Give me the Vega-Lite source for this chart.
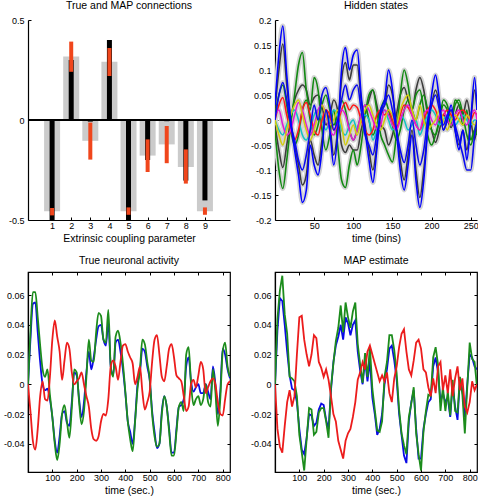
{
"$schema": "https://vega.github.io/schema/vega-lite/v6.json",
"background": "white",
"padding": {"left": 2, "top": 0, "right": 0, "bottom": 0},
"columns": 2,
"spacing": {"row": 52, "column": 45},
"bounds": "flush",
"resolve": {"scale": {"color": "independent"}},
"config": {
  "font": "Liberation Sans",
  "view": {"stroke": null},
  "axis": {"grid": false, "domainColor": "#000", "domainWidth": 1.2, "tickColor": "#000", "tickSize": -3, "tickWidth": 1, "labelColor": "#000", "titleColor": "#000", "labelFont": "Liberation Sans", "titleFont": "Liberation Sans", "labelFontSize": 9, "titleFontSize": 10.5, "titleFontWeight": "normal", "titlePadding": 3, "labelOverlap": false},
  "axisX": {"labelPadding": 4},
  "axisY": {"labelPadding": 7},
  "title": {"font": "Liberation Sans", "fontSize": 10.5, "fontWeight": "normal", "color": "#000", "offset": 5, "anchor": "middle"}
},
"datasets": {
  "bars": [
    {"k": 1, "truth": -0.456, "map": -0.5, "lo": -0.44, "hi": -0.477},
    {"k": 2, "truth": 0.318, "map": 0.30, "lo": 0.241, "hi": 0.392},
    {"k": 3, "truth": -0.104, "map": -0.008, "lo": -0.013, "hi": -0.198},
    {"k": 4, "truth": 0.291, "map": 0.40, "lo": 0.22, "hi": 0.36},
    {"k": 5, "truth": -0.456, "map": -0.5, "lo": -0.437, "hi": -0.474},
    {"k": 6, "truth": -0.178, "map": -0.2, "lo": -0.097, "hi": -0.26},
    {"k": 7, "truth": -0.122, "map": -0.006, "lo": -0.03, "hi": -0.216},
    {"k": 8, "truth": -0.235, "map": -0.303, "lo": -0.147, "hi": -0.318},
    {"k": 9, "truth": -0.456, "map": -0.402, "lo": -0.437, "hi": -0.474}
  ],
  "hidden": [
    {"t": 0, "b1": 0.03, "b2": 0.0, "d1": 0.02, "d2": -0.01, "g1": -0.02, "g2": 0.01, "c": 0.0, "r": 0.0, "m": 0.01, "yl": 0.0},
    {"t": 5, "b1": 0.13, "b2": 0.05, "d1": 0.1, "d2": -0.06, "g1": -0.1, "g2": 0.05, "c": -0.02, "r": 0.03, "m": 0.02, "yl": -0.03},
    {"t": 10, "b1": 0.188, "b2": 0.075, "d1": 0.152, "d2": -0.095, "g1": -0.137, "g2": 0.07, "c": -0.03, "r": 0.045, "m": -0.01, "yl": -0.05},
    {"t": 15, "b1": 0.09, "b2": 0.04, "d1": 0.07, "d2": -0.05, "g1": -0.08, "g2": 0.03, "c": -0.01, "r": 0.01, "m": -0.03, "yl": -0.02},
    {"t": 20, "b1": 0.0, "b2": -0.01, "d1": 0.0, "d2": 0.0, "g1": -0.01, "g2": -0.02, "c": 0.01, "r": -0.02, "m": -0.02, "yl": 0.01},
    {"t": 25, "b1": -0.06, "b2": -0.04, "d1": -0.05, "d2": 0.04, "g1": 0.05, "g2": -0.05, "c": 0.02, "r": -0.04, "m": 0.01, "yl": 0.03},
    {"t": 30, "b1": -0.11, "b2": -0.08, "d1": -0.09, "d2": 0.06, "g1": 0.11, "g2": -0.03, "c": 0.0, "r": -0.02, "m": 0.035, "yl": 0.04},
    {"t": 35, "b1": -0.165, "b2": -0.1, "d1": -0.13, "d2": 0.07, "g1": 0.135, "g2": 0.02, "c": -0.03, "r": 0.02, "m": 0.02, "yl": 0.01},
    {"t": 40, "b1": -0.14, "b2": -0.07, "d1": -0.11, "d2": 0.06, "g1": 0.06, "g2": 0.04, "c": -0.04, "r": 0.035, "m": -0.01, "yl": -0.02},
    {"t": 45, "b1": -0.05, "b2": -0.02, "d1": -0.04, "d2": 0.03, "g1": 0.02, "g2": 0.0, "c": -0.02, "r": 0.01, "m": -0.03, "yl": -0.04},
    {"t": 50, "b1": -0.09, "b2": 0.03, "d1": -0.07, "d2": 0.045, "g1": 0.085, "g2": -0.03, "c": 0.01, "r": -0.02, "m": -0.01, "yl": -0.02},
    {"t": 55, "b1": -0.11, "b2": 0.0, "d1": -0.09, "d2": 0.05, "g1": 0.06, "g2": -0.01, "c": 0.02, "r": -0.03, "m": 0.02, "yl": 0.01},
    {"t": 60, "b1": -0.06, "b2": 0.05, "d1": -0.04, "d2": 0.03, "g1": -0.02, "g2": 0.03, "c": 0.0, "r": 0.0, "m": 0.03, "yl": 0.03},
    {"t": 65, "b1": 0.02, "b2": 0.065, "d1": 0.02, "d2": -0.01, "g1": -0.06, "g2": 0.05, "c": -0.02, "r": 0.02, "m": 0.01, "yl": 0.01},
    {"t": 70, "b1": -0.02, "b2": 0.03, "d1": -0.01, "d2": 0.01, "g1": -0.03, "g2": 0.02, "c": 0.0, "r": 0.01, "m": -0.02, "yl": -0.01},
    {"t": 75, "b1": -0.09, "b2": -0.02, "d1": -0.07, "d2": 0.04, "g1": 0.02, "g2": -0.01, "c": 0.02, "r": -0.02, "m": -0.03, "yl": 0.0},
    {"t": 80, "b1": -0.03, "b2": 0.0, "d1": -0.02, "d2": 0.02, "g1": -0.05, "g2": 0.01, "c": 0.01, "r": -0.01, "m": 0.0, "yl": 0.02},
    {"t": 85, "b1": 0.1, "b2": 0.04, "d1": 0.08, "d2": -0.05, "g1": -0.12, "g2": 0.04, "c": -0.02, "r": 0.02, "m": 0.02, "yl": -0.01},
    {"t": 90, "b1": 0.145, "b2": 0.07, "d1": 0.115, "d2": -0.065, "g1": -0.135, "g2": 0.02, "c": -0.03, "r": 0.035, "m": 0.01, "yl": -0.05},
    {"t": 95, "b1": 0.1, "b2": 0.04, "d1": 0.08, "d2": -0.05, "g1": -0.09, "g2": -0.02, "c": -0.01, "r": 0.02, "m": -0.02, "yl": -0.03},
    {"t": 100, "b1": 0.13, "b2": 0.06, "d1": 0.11, "d2": -0.06, "g1": -0.06, "g2": -0.04, "c": 0.0, "r": 0.03, "m": -0.04, "yl": -0.01},
    {"t": 105, "b1": 0.14, "b2": 0.07, "d1": 0.11, "d2": -0.06, "g1": -0.09, "g2": -0.02, "c": -0.02, "r": 0.025, "m": -0.02, "yl": -0.03},
    {"t": 110, "b1": 0.05, "b2": 0.02, "d1": 0.04, "d2": -0.02, "g1": -0.05, "g2": 0.01, "c": 0.0, "r": 0.0, "m": 0.01, "yl": 0.0},
    {"t": 115, "b1": -0.02, "b2": -0.03, "d1": -0.01, "d2": 0.01, "g1": 0.01, "g2": 0.03, "c": 0.01, "r": -0.02, "m": 0.03, "yl": 0.02},
    {"t": 120, "b1": -0.08, "b2": -0.05, "d1": -0.06, "d2": 0.04, "g1": 0.05, "g2": 0.0, "c": 0.0, "r": -0.03, "m": 0.02, "yl": 0.03},
    {"t": 125, "b1": -0.125, "b2": -0.07, "d1": -0.1, "d2": 0.06, "g1": 0.06, "g2": -0.03, "c": -0.04, "r": -0.02, "m": 0.0, "yl": 0.01},
    {"t": 130, "b1": -0.06, "b2": -0.03, "d1": -0.05, "d2": 0.03, "g1": 0.02, "g2": -0.01, "c": -0.02, "r": 0.01, "m": -0.02, "yl": -0.01},
    {"t": 135, "b1": 0.02, "b2": 0.01, "d1": 0.02, "d2": -0.01, "g1": -0.03, "g2": 0.02, "c": 0.01, "r": 0.02, "m": -0.01, "yl": -0.02},
    {"t": 140, "b1": 0.04, "b2": 0.03, "d1": 0.03, "d2": -0.02, "g1": -0.05, "g2": 0.04, "c": 0.02, "r": 0.01, "m": 0.02, "yl": 0.0},
    {"t": 145, "b1": 0.1, "b2": 0.05, "d1": 0.07, "d2": -0.05, "g1": -0.07, "g2": 0.02, "c": 0.0, "r": 0.02, "m": 0.01, "yl": 0.02},
    {"t": 150, "b1": 0.06, "b2": 0.02, "d1": 0.05, "d2": -0.03, "g1": -0.084, "g2": -0.01, "c": -0.02, "r": 0.0, "m": -0.01, "yl": 0.01},
    {"t": 155, "b1": -0.02, "b2": -0.02, "d1": -0.01, "d2": 0.01, "g1": -0.03, "g2": -0.04, "c": -0.01, "r": -0.02, "m": -0.02, "yl": -0.01},
    {"t": 160, "b1": -0.1, "b2": -0.06, "d1": -0.08, "d2": 0.05, "g1": 0.05, "g2": -0.02, "c": 0.01, "r": 0.01, "m": 0.0, "yl": 0.02},
    {"t": 165, "b1": -0.14, "b2": -0.085, "d1": -0.12, "d2": 0.065, "g1": 0.1, "g2": 0.02, "c": 0.0, "r": 0.03, "m": 0.02, "yl": 0.04},
    {"t": 170, "b1": -0.09, "b2": -0.05, "d1": -0.07, "d2": 0.04, "g1": 0.07, "g2": 0.04, "c": -0.02, "r": 0.025, "m": 0.03, "yl": 0.05},
    {"t": 175, "b1": -0.03, "b2": 0.0, "d1": -0.02, "d2": 0.02, "g1": 0.02, "g2": 0.02, "c": -0.01, "r": 0.01, "m": 0.01, "yl": 0.02},
    {"t": 180, "b1": -0.12, "b2": -0.05, "d1": -0.1, "d2": 0.06, "g1": 0.05, "g2": 0.0, "c": 0.0, "r": -0.01, "m": -0.01, "yl": 0.0},
    {"t": 185, "b1": -0.175, "b2": -0.09, "d1": -0.155, "d2": 0.085, "g1": 0.06, "g2": 0.03, "c": -0.03, "r": -0.02, "m": -0.02, "yl": 0.03},
    {"t": 190, "b1": -0.12, "b2": -0.06, "d1": -0.1, "d2": 0.06, "g1": 0.02, "g2": 0.05, "c": -0.01, "r": 0.0, "m": 0.01, "yl": 0.0},
    {"t": 195, "b1": -0.02, "b2": 0.0, "d1": -0.02, "d2": 0.01, "g1": -0.03, "g2": 0.02, "c": 0.01, "r": 0.02, "m": 0.02, "yl": -0.02},
    {"t": 200, "b1": 0.05, "b2": 0.03, "d1": 0.03, "d2": -0.02, "g1": -0.05, "g2": -0.02, "c": 0.02, "r": 0.03, "m": 0.0, "yl": -0.01},
    {"t": 205, "b1": 0.09, "b2": 0.05, "d1": 0.06, "d2": -0.045, "g1": -0.03, "g2": -0.03, "c": 0.01, "r": 0.02, "m": -0.01, "yl": 0.0},
    {"t": 210, "b1": 0.04, "b2": 0.02, "d1": 0.03, "d2": -0.02, "g1": 0.0, "g2": 0.0, "c": -0.01, "r": 0.0, "m": 0.01, "yl": 0.02},
    {"t": 215, "b1": -0.02, "b2": -0.01, "d1": -0.02, "d2": 0.01, "g1": 0.03, "g2": 0.04, "c": 0.0, "r": 0.01, "m": 0.02, "yl": 0.0},
    {"t": 220, "b1": 0.0, "b2": 0.01, "d1": 0.0, "d2": 0.0, "g1": 0.02, "g2": 0.03, "c": 0.01, "r": 0.02, "m": 0.0, "yl": -0.02},
    {"t": 225, "b1": 0.03, "b2": 0.02, "d1": 0.02, "d2": -0.015, "g1": -0.01, "g2": 0.0, "c": 0.0, "r": 0.01, "m": -0.01, "yl": 0.0},
    {"t": 230, "b1": -0.02, "b2": -0.01, "d1": -0.02, "d2": 0.01, "g1": 0.04, "g2": 0.03, "c": -0.01, "r": 0.0, "m": 0.01, "yl": 0.01},
    {"t": 235, "b1": -0.06, "b2": -0.04, "d1": -0.05, "d2": 0.03, "g1": 0.03, "g2": 0.04, "c": 0.0, "r": 0.015, "m": 0.02, "yl": 0.0},
    {"t": 240, "b1": -0.02, "b2": -0.07, "d1": -0.02, "d2": 0.01, "g1": -0.01, "g2": 0.01, "c": 0.01, "r": 0.02, "m": 0.0, "yl": -0.01},
    {"t": 245, "b1": -0.08, "b2": -0.1, "d1": -0.06, "d2": 0.04, "g1": 0.02, "g2": -0.03, "c": 0.0, "r": 0.01, "m": -0.01, "yl": 0.01},
    {"t": 250, "b1": 0.0, "b2": -0.1, "d1": 0.0, "d2": 0.0, "g1": -0.04, "g2": -0.05, "c": -0.01, "r": 0.0, "m": 0.01, "yl": 0.0},
    {"t": 255, "b1": 0.085, "b2": -0.03, "d1": 0.06, "d2": -0.04, "g1": -0.02, "g2": -0.02, "c": 0.0, "r": 0.015, "m": 0.02, "yl": -0.01},
    {"t": 258, "b1": 0.02, "b2": 0.0, "d1": 0.02, "d2": -0.01, "g1": -0.03, "g2": 0.0, "c": 0.0, "r": 0.01, "m": 0.0, "yl": 0.0}
  ],
  "neuro": [
    {"t": 0, "tb": 0.0, "tg": 0.0, "tr": 0.0, "mb": 0.0, "mg": 0.0, "mr": 0.0},
    {"t": 10, "tb": 0.03, "tg": 0.035, "tr": -0.018, "mb": 0.036, "mg": 0.044, "mr": -0.03},
    {"t": 20, "tb": 0.054, "tg": 0.062, "tr": -0.038, "mb": 0.058, "mg": 0.063, "mr": -0.042},
    {"t": 30, "tb": 0.055, "tg": 0.062, "tr": -0.044, "mb": 0.056, "mg": 0.073, "mr": -0.046},
    {"t": 40, "tb": 0.035, "tg": 0.045, "tr": -0.03, "mb": 0.04, "mg": 0.047, "mr": -0.028},
    {"t": 50, "tb": 0.015, "tg": 0.026, "tr": -0.008, "mb": 0.022, "mg": 0.034, "mr": -0.012},
    {"t": 60, "tb": 0.0, "tg": 0.01, "tr": 0.002, "mb": 0.006, "mg": 0.005, "mr": -0.004},
    {"t": 70, "tb": -0.004, "tg": 0.005, "tr": -0.01, "mb": -0.003, "mg": 0.004, "mr": -0.015},
    {"t": 80, "tb": -0.003, "tg": 0.01, "tr": -0.011, "mb": -0.004, "mg": 0.002, "mr": -0.008},
    {"t": 90, "tb": -0.01, "tg": -0.007, "tr": 0.005, "mb": -0.012, "mg": -0.008, "mr": 0.02},
    {"t": 100, "tb": -0.022, "tg": -0.022, "tr": 0.03, "mb": -0.03, "mg": -0.034, "mr": 0.045},
    {"t": 110, "tb": -0.038, "tg": -0.04, "tr": 0.043, "mb": -0.044, "mg": -0.046, "mr": 0.046},
    {"t": 120, "tb": -0.046, "tg": -0.051, "tr": 0.032, "mb": -0.047, "mg": -0.058, "mr": 0.03},
    {"t": 130, "tb": -0.035, "tg": -0.04, "tr": 0.022, "mb": -0.036, "mg": -0.037, "mr": 0.02},
    {"t": 140, "tb": -0.02, "tg": -0.02, "tr": 0.003, "mb": -0.02, "mg": -0.016, "mr": 0.012},
    {"t": 150, "tb": -0.018, "tg": -0.014, "tr": 0.016, "mb": -0.021, "mg": -0.017, "mr": 0.02},
    {"t": 160, "tb": -0.026, "tg": -0.025, "tr": 0.028, "mb": -0.028, "mg": -0.034, "mr": 0.033},
    {"t": 170, "tb": -0.028, "tg": -0.036, "tr": 0.024, "mb": -0.026, "mg": -0.032, "mr": 0.031},
    {"t": 180, "tb": -0.012, "tg": -0.016, "tr": 0.008, "mb": -0.017, "mg": -0.019, "mr": 0.015},
    {"t": 190, "tb": 0.008, "tg": 0.01, "tr": 0.0, "mb": -0.013, "mg": -0.016, "mr": 0.011},
    {"t": 200, "tb": 0.006, "tg": 0.008, "tr": 0.002, "mb": -0.014, "mg": -0.016, "mr": 0.005},
    {"t": 210, "tb": -0.01, "tg": -0.012, "tr": 0.004, "mb": -0.024, "mg": -0.025, "mr": 0.01},
    {"t": 220, "tb": -0.022, "tg": -0.027, "tr": 0.008, "mb": -0.03, "mg": -0.036, "mr": 0.003},
    {"t": 230, "tb": -0.012, "tg": -0.018, "tr": 0.0, "mb": -0.004, "mg": -0.002, "mr": -0.008},
    {"t": 240, "tb": 0.008, "tg": 0.005, "tr": -0.008, "mb": 0.015, "mg": 0.014, "mr": -0.02},
    {"t": 250, "tb": 0.022, "tg": 0.03, "tr": -0.015, "mb": 0.026, "mg": 0.029, "mr": -0.025},
    {"t": 260, "tb": 0.01, "tg": 0.016, "tr": -0.03, "mb": 0.032, "mg": 0.038, "mr": -0.038},
    {"t": 270, "tb": 0.018, "tg": 0.015, "tr": -0.037, "mb": 0.04, "mg": 0.053, "mr": -0.044},
    {"t": 280, "tb": 0.03, "tg": 0.035, "tr": -0.038, "mb": 0.03, "mg": 0.035, "mr": -0.05},
    {"t": 290, "tb": 0.039, "tg": 0.048, "tr": -0.035, "mb": 0.045, "mg": 0.055, "mr": -0.038},
    {"t": 300, "tb": 0.04, "tg": 0.046, "tr": -0.025, "mb": 0.041, "mg": 0.045, "mr": -0.033},
    {"t": 310, "tb": 0.03, "tg": 0.03, "tr": -0.02, "mb": 0.033, "mg": 0.038, "mr": -0.03},
    {"t": 320, "tb": 0.026, "tg": 0.028, "tr": -0.021, "mb": 0.04, "mg": 0.049, "mr": -0.022},
    {"t": 330, "tb": 0.042, "tg": 0.05, "tr": -0.01, "mb": 0.043, "mg": 0.055, "mr": -0.012},
    {"t": 340, "tb": 0.012, "tg": 0.012, "tr": 0.012, "mb": 0.022, "mg": 0.027, "mr": 0.003},
    {"t": 350, "tb": 0.006, "tg": 0.005, "tr": 0.016, "mb": 0.009, "mg": 0.013, "mr": 0.008},
    {"t": 360, "tb": 0.028, "tg": 0.032, "tr": 0.012, "mb": 0.0, "mg": 0.001, "mr": 0.015},
    {"t": 370, "tb": 0.03, "tg": 0.036, "tr": 0.003, "mb": 0.016, "mg": 0.021, "mr": 0.01},
    {"t": 380, "tb": 0.022, "tg": 0.028, "tr": 0.015, "mb": 0.002, "mg": 0.005, "mr": 0.022},
    {"t": 390, "tb": 0.01, "tg": 0.014, "tr": 0.026, "mb": 0.016, "mg": 0.025, "mr": 0.026},
    {"t": 400, "tb": -0.006, "tg": -0.005, "tr": 0.027, "mb": -0.009, "mg": -0.003, "mr": 0.02},
    {"t": 410, "tb": -0.025, "tg": -0.025, "tr": 0.022, "mb": -0.02, "mg": -0.017, "mr": 0.014},
    {"t": 420, "tb": -0.032, "tg": -0.037, "tr": 0.018, "mb": -0.034, "mg": -0.031, "mr": 0.008},
    {"t": 430, "tb": -0.04, "tg": -0.045, "tr": 0.014, "mb": -0.03, "mg": -0.032, "mr": 0.002},
    {"t": 440, "tb": -0.024, "tg": -0.025, "tr": 0.0, "mb": -0.02, "mg": -0.025, "mr": 0.006},
    {"t": 450, "tb": 0.0, "tg": -0.003, "tr": 0.005, "mb": 0.0, "mg": 0.005, "mr": 0.002},
    {"t": 460, "tb": 0.008, "tg": 0.01, "tr": 0.012, "mb": 0.01, "mg": 0.015, "mr": 0.008},
    {"t": 470, "tb": 0.024, "tg": 0.03, "tr": -0.005, "mb": 0.024, "mg": 0.033, "mr": -0.006},
    {"t": 480, "tb": 0.022, "tg": 0.027, "tr": -0.017, "mb": 0.026, "mg": 0.033, "mr": -0.012},
    {"t": 490, "tb": 0.012, "tg": 0.015, "tr": -0.012, "mb": 0.016, "mg": 0.023, "mr": 0.004},
    {"t": 500, "tb": 0.003, "tg": 0.004, "tr": -0.005, "mb": 0.003, "mg": 0.007, "mr": 0.012},
    {"t": 510, "tb": -0.018, "tg": -0.02, "tr": 0.015, "mb": -0.02, "mg": -0.017, "mr": 0.025},
    {"t": 520, "tb": -0.032, "tg": -0.035, "tr": 0.03, "mb": -0.034, "mg": -0.033, "mr": 0.034},
    {"t": 530, "tb": -0.043, "tg": -0.042, "tr": 0.033, "mb": -0.048, "mg": -0.041, "mr": 0.037},
    {"t": 540, "tb": -0.04, "tg": -0.04, "tr": 0.02, "mb": -0.053, "mg": -0.047, "mr": 0.022},
    {"t": 550, "tb": -0.018, "tg": -0.02, "tr": 0.005, "mb": -0.025, "mg": -0.022, "mr": 0.01},
    {"t": 560, "tb": -0.008, "tg": -0.008, "tr": 0.002, "mb": -0.012, "mg": -0.013, "mr": 0.006},
    {"t": 570, "tb": -0.015, "tg": -0.015, "tr": 0.012, "mb": -0.004, "mg": -0.002, "mr": 0.016},
    {"t": 580, "tb": -0.03, "tg": -0.032, "tr": 0.024, "mb": -0.03, "mg": -0.033, "mr": 0.028},
    {"t": 590, "tb": -0.046, "tg": -0.048, "tr": 0.027, "mb": -0.05, "mg": -0.047, "mr": 0.03},
    {"t": 600, "tb": -0.046, "tg": -0.048, "tr": 0.018, "mb": -0.05, "mg": -0.058, "mr": 0.024},
    {"t": 610, "tb": -0.03, "tg": -0.032, "tr": 0.006, "mb": -0.03, "mg": -0.032, "mr": 0.01},
    {"t": 620, "tb": -0.015, "tg": -0.015, "tr": 0.004, "mb": -0.02, "mg": -0.018, "mr": 0.008},
    {"t": 630, "tb": -0.014, "tg": -0.012, "tr": 0.002, "mb": -0.012, "mg": -0.007, "mr": -0.002},
    {"t": 640, "tb": -0.01, "tg": -0.018, "tr": -0.008, "mb": -0.01, "mg": -0.008, "mr": -0.008},
    {"t": 650, "tb": 0.012, "tg": 0.02, "tr": -0.018, "mb": 0.012, "mg": 0.018, "mr": 0.004},
    {"t": 660, "tb": 0.018, "tg": 0.025, "tr": -0.015, "mb": 0.018, "mg": 0.025, "mr": -0.006},
    {"t": 670, "tb": 0.002, "tg": 0.0, "tr": 0.0, "mb": 0.008, "mg": 0.013, "mr": 0.012},
    {"t": 680, "tb": -0.005, "tg": -0.014, "tr": 0.003, "mb": -0.012, "mg": -0.018, "mr": 0.015},
    {"t": 690, "tb": -0.002, "tg": -0.01, "tr": -0.002, "mb": -0.006, "mg": -0.002, "mr": -0.004},
    {"t": 700, "tb": 0.0, "tg": -0.008, "tr": 0.006, "mb": -0.012, "mg": -0.018, "mr": 0.006},
    {"t": 710, "tb": -0.006, "tg": -0.014, "tr": 0.015, "mb": -0.009, "mg": -0.005, "mr": -0.006},
    {"t": 720, "tb": -0.006, "tg": -0.01, "tr": 0.01, "mb": -0.022, "mg": -0.021, "mr": 0.01},
    {"t": 730, "tb": 0.0, "tg": 0.0, "tr": -0.006, "mb": 0.0, "mg": 0.003, "mr": -0.008},
    {"t": 740, "tb": -0.005, "tg": -0.012, "tr": -0.002, "mb": -0.015, "mg": -0.018, "mr": 0.004},
    {"t": 750, "tb": -0.01, "tg": -0.015, "tr": 0.002, "mb": -0.024, "mg": -0.019, "mr": 0.012},
    {"t": 760, "tb": 0.012, "tg": 0.01, "tr": 0.004, "mb": 0.004, "mg": 0.005, "mr": -0.004},
    {"t": 770, "tb": 0.0, "tg": -0.005, "tr": 0.0, "mb": -0.004, "mg": -0.007, "mr": 0.004},
    {"t": 780, "tb": -0.02, "tg": -0.028, "tr": -0.012, "mb": -0.022, "mg": -0.033, "mr": -0.015},
    {"t": 790, "tb": -0.005, "tg": -0.01, "tr": -0.02, "mb": 0.0, "mg": -0.002, "mr": -0.019},
    {"t": 800, "tb": 0.024, "tg": 0.022, "tr": -0.021, "mb": 0.02, "mg": 0.028, "mr": -0.012},
    {"t": 810, "tb": 0.02, "tg": 0.028, "tr": -0.01, "mb": 0.018, "mg": 0.017, "mr": 0.002},
    {"t": 820, "tb": 0.01, "tg": 0.012, "tr": 0.0, "mb": 0.012, "mg": 0.015, "mr": -0.004},
    {"t": 830, "tb": 0.004, "tg": 0.005, "tr": 0.002, "mb": 0.01, "mg": -0.002, "mr": 0.0}
  ]
},
"concat": [
  {
    "title": "True and MAP connections",
    "width": 202, "height": 200,
    "data": {"name": "bars"},
    "layer": [
      {"mark": {"type": "bar", "size": 16, "color": "#cbcbcb"},
       "encoding": {
         "x": {"field": "k", "type": "quantitative", "scale": {"domain": [0, 10.05], "nice": false, "zero": false}, "axis": {"values": [1,2,3,4,5,6,7,8,9], "tickCount": 9, "title": "Extrinsic coupling parameter", "labelExpr": "'' + datum.value", "labelOverlap": false, "labelFlush": false}},
         "y": {"field": "truth", "type": "quantitative", "scale": {"domain": [-0.5, 0.5], "nice": false}, "axis": {"values": [-0.5, 0, 0.5], "title": null, "labelExpr": "'' + datum.value", "labelOverlap": false}}
       }},
      {"mark": {"type": "bar", "size": 5, "color": "#000000"},
       "encoding": {
         "x": {"field": "k", "type": "quantitative"},
         "y": {"field": "map", "type": "quantitative"}
       }},
      {"mark": {"type": "bar", "size": 4, "color": "#f0461c"},
       "encoding": {
         "x": {"field": "k", "type": "quantitative"},
         "y": {"field": "lo", "type": "quantitative"},
         "y2": {"field": "hi"}
       }},
      {"mark": {"type": "rule", "color": "#000000", "strokeWidth": 1.5},
       "encoding": {"y": {"datum": 0}}}
    ]
  },
  {
    "title": "Hidden states",
    "width": 202, "height": 200,
    "data": {"name": "hidden"},
    "transform": [{"fold": ["d1", "d2", "g1", "g2", "c", "r", "m", "yl", "b2", "b1"], "as": ["s", "v"]}],
    "encoding": {
      "x": {"field": "t", "type": "quantitative", "scale": {"domain": [0, 258], "nice": false, "zero": false}, "axis": {"values": [50, 100, 150, 200, 250], "tickCount": 5, "title": "time (bins)", "labelExpr": "'' + datum.value", "labelOverlap": false}},
      "y": {"field": "v", "type": "quantitative", "scale": {"domain": [-0.2, 0.2], "nice": false}, "axis": {"values": [-0.2, -0.15, -0.1, -0.05, 0, 0.05, 0.1, 0.15, 0.2], "tickCount": 9, "title": null, "labelExpr": "'' + datum.value", "labelOverlap": false}},
      "detail": {"field": "s", "type": "nominal"}
    },
    "layer": [
      {"mark": {"type": "line", "color": "#d4d4d4", "strokeWidth": 5, "interpolate": "monotone", "clip": true}},
      {"mark": {"type": "line", "strokeWidth": 1.6, "interpolate": "monotone", "clip": true},
       "encoding": {"color": {"field": "s", "type": "nominal", "scale": {"domain": ["d1", "d2", "g1", "g2", "c", "r", "m", "yl", "b2", "b1"], "range": ["#3c3c3c", "#3c3c3c", "#128a12", "#128a12", "#10c4c4", "#ff1a1a", "#e01ad6", "#d2cc10", "#0a0af0", "#0000ff"]}, "legend": null}}}
    ]
  },
  {
    "title": "True neuronal activity",
    "width": 202, "height": 200,
    "data": {"name": "neuro"},
    "view": {"stroke": "#000000", "strokeWidth": 1.2},
    "layer": [
      {"transform": [{"fold": ["tb", "tg", "tr"], "as": ["s", "v"]}],
       "mark": {"type": "line", "strokeWidth": 1.8, "interpolate": "monotone", "clip": true},
       "encoding": {
         "x": {"field": "t", "type": "quantitative", "scale": {"domain": [0, 830], "nice": false, "zero": false}, "axis": {"values": [100, 200, 300, 400, 500, 600, 700, 800], "tickCount": 8, "title": "time (sec.)", "labelExpr": "'' + datum.value", "labelOverlap": false}},
         "y": {"field": "v", "type": "quantitative", "scale": {"domain": [-0.059, 0.0755], "nice": false, "zero": false}, "axis": {"values": [-0.04, -0.02, 0, 0.02, 0.04, 0.06], "tickCount": 6, "title": null, "labelExpr": "'' + datum.value", "labelOverlap": false}},
         "color": {"field": "s", "type": "nominal", "scale": {"domain": ["tb", "tg", "tr"], "range": ["#0a0ae6", "#1c8c1c", "#ec1c1c"]}, "legend": null}
       }},
      {"mark": {"type": "point", "opacity": 0},
       "encoding": {
         "x": {"field": "t", "type": "quantitative", "axis": {"orient": "top", "values": [100, 200, 300, 400, 500, 600, 700, 800], "tickCount": 8, "labels": false, "title": null, "domain": false}},
         "y": {"field": "tb", "type": "quantitative", "axis": {"orient": "right", "values": [-0.04, -0.02, 0, 0.02, 0.04, 0.06], "tickCount": 6, "labels": false, "title": null, "domain": false}}
       }}
    ],
    "resolve": {"axis": {"x": "independent", "y": "independent"}}
  },
  {
    "title": "MAP estimate",
    "width": 202, "height": 200,
    "data": {"name": "neuro"},
    "view": {"stroke": "#000000", "strokeWidth": 1.2},
    "layer": [
      {"transform": [{"fold": ["mb", "mg", "mr"], "as": ["s", "v"]}],
       "mark": {"type": "line", "strokeWidth": 1.8, "interpolate": "linear", "clip": true},
       "encoding": {
         "x": {"field": "t", "type": "quantitative", "scale": {"domain": [0, 830], "nice": false, "zero": false}, "axis": {"values": [100, 200, 300, 400, 500, 600, 700, 800], "tickCount": 8, "title": "time (sec.)", "labelExpr": "'' + datum.value", "labelOverlap": false}},
         "y": {"field": "v", "type": "quantitative", "scale": {"domain": [-0.059, 0.0755], "nice": false, "zero": false}, "axis": {"values": [-0.04, -0.02, 0, 0.02, 0.04, 0.06], "tickCount": 6, "title": null, "labelExpr": "'' + datum.value", "labelOverlap": false}},
         "color": {"field": "s", "type": "nominal", "scale": {"domain": ["mb", "mg", "mr"], "range": ["#0a0ae6", "#1c8c1c", "#ec1c1c"]}, "legend": null}
       }},
      {"mark": {"type": "point", "opacity": 0},
       "encoding": {
         "x": {"field": "t", "type": "quantitative", "axis": {"orient": "top", "values": [100, 200, 300, 400, 500, 600, 700, 800], "tickCount": 8, "labels": false, "title": null, "domain": false}},
         "y": {"field": "mb", "type": "quantitative", "axis": {"orient": "right", "values": [-0.04, -0.02, 0, 0.02, 0.04, 0.06], "tickCount": 6, "labels": false, "title": null, "domain": false}}
       }}
    ],
    "resolve": {"axis": {"x": "independent", "y": "independent"}}
  }
]
}
